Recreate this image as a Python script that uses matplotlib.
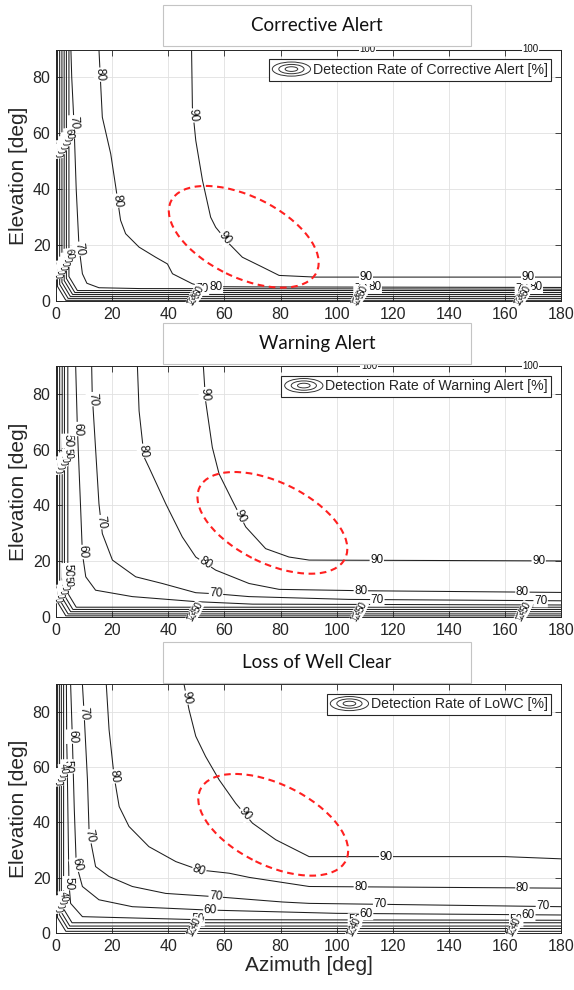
import numpy as np
import matplotlib
matplotlib.use("Agg")
import matplotlib.pyplot as plt
from matplotlib.patches import Ellipse, Rectangle
from matplotlib.legend_handler import HandlerBase
from matplotlib.lines import Line2D
from matplotlib.transforms import ScaledTranslation

plt.rcParams['font.family'] = ['Liberation Sans', 'DejaVu Sans']

AZ_TICKS = [0, 20, 40, 60, 80, 100, 120, 140, 160, 180]
EL_TICKS = [0, 20, 40, 60, 80]

# ---- Corrective Alert ----
CA_LOW_LEVELS = [10, 20, 30, 40, 50, 60]
CA_LOW_AZ = [0.5, 1.3, 2.1, 2.9, 3.7, 4.6]     # vertical branch
CA_LOW_EL = [0.4, 1.1, 1.8, 2.5, 3.2, 3.9]     # horizontal branch
CA_70_AZ = [5.3, 5.6, 6.4, 7.2, 8.2, 9.4, 11.0, 15.3, 30, 180]
CA_70_EL = [90, 80, 63.6, 40, 19.4, 9.9, 6.5, 4.9, 4.6, 4.4]
CA_80_AZ = [15.3, 15.9, 16.5, 19.5, 21.3, 23.0, 24.8, 29.6, 35.5, 39.7, 41.5, 48.6, 52.7, 70, 180]
CA_80_EL = [90, 77.7, 65.8, 52.7, 40.8, 29.0, 24.2, 19.4, 15.8, 13.4, 9.9, 6.3, 5.3, 5.2, 5.0]
CA_90_AZ = [48.3, 48.6, 49.8, 52.2, 55.1, 56.9, 61.7, 66.4, 73.5, 79.5, 92.5, 180]
CA_90_EL = [90, 69.4, 57.5, 43.2, 30.1, 26.5, 20.6, 15.8, 12.3, 9.3, 8.7, 8.7]
CA_100_AZ = [80, 180]
CA_100_EL = [90, 90]
CA_LABELS = [(70, 6.4, 64), (70, 8.2, 18.8), (70, 52, 4.6), (70, 108.5, 4.5), (70, 166, 4.4),
             (80, 15.4, 81), (80, 21.9, 36), (80, 57, 5.3), (80, 113.6, 5.1), (80, 171, 5.0),
             (90, 48.6, 66.4), (90, 59.9, 22.4), (90, 110.4, 8.7), (90, 168.2, 8.7),
             (100, 111, 90), (100, 169, 90)]
CA_CLUSTER_AZ = [48.5, 107, 165]
CA_CLUSTER_EL = [53, 10]
CA_ELLIPSE = (66.9, 23.1)

# ---- Warning Alert ----
WA_LOW_LEVELS = [10, 20, 30, 40, 50]
WA_LOW_AZ = [0.5, 1.3, 2.2, 3.0, 4.2]
WA_LOW_EL = [0.4, 1.1, 1.9, 2.7, 3.5]
WA_60_AZ = [7.0, 7.6, 8.8, 9.4, 10.6, 14.1, 27.2, 49.8, 70, 180]
WA_60_EL = [90, 68, 38.2, 22.7, 14.4, 9.6, 7.3, 5.5, 4.6, 4.3]
WA_70_AZ = [12.7, 12.9, 15.3, 16.5, 20.1, 28.4, 37.9, 49.8, 57, 68.8, 104.4, 180]
WA_70_EL = [90, 79.9, 40.6, 29.9, 20.4, 14.4, 12.0, 8.7, 8.3, 7.3, 6.3, 5.8]
WA_80_AZ = [29.0, 29.6, 31.4, 33.1, 39.1, 45.0, 49.8, 56.9, 68.8, 79.5, 110, 180]
WA_80_EL = [90, 73.9, 57.3, 53.7, 40.6, 28.7, 21.5, 16.8, 12.0, 9.9, 9.4, 8.8]
WA_90_AZ = [52.5, 53.3, 55.7, 58.1, 62.8, 67.6, 74.7, 83.0, 90.2, 180]
WA_90_EL = [90, 77.5, 60.8, 51.3, 41.8, 32.3, 24.5, 21.5, 20.4, 20.1]
WA_100_AZ = [80, 180]
WA_100_EL = [90, 90]
WA_LABELS = [(50, 4.2, 63.2), (50, 4.2, 16.8), (60, 7.7, 67.4), (60, 9.4, 23.3),
             (70, 12.9, 78.1), (70, 15.9, 34), (70, 57, 8.3), (70, 114.5, 6.1), (70, 172.7, 5.8),
             (80, 31.1, 59.6), (80, 52.7, 18.6), (80, 108.6, 9.4), (80, 166.2, 8.9),
             (90, 52.9, 79.9), (90, 65, 35.8), (90, 114.3, 20.2), (90, 172, 20.1),
             (100, 111.5, 90), (100, 169, 90)]
WA_CLUSTER_AZ = [48.5, 107, 165.5]
WA_CLUSTER_EL = [53, 7]
WA_ELLIPSE = (77.1, 33.75)

# ---- Loss of Well Clear ----
LW_LOW_LEVELS = [10, 20, 30, 40]
LW_LOW_AZ = [0.5, 1.2, 1.9, 2.7]
LW_LOW_EL = [0.6, 1.6, 2.5, 3.7]
LW_50_AZ = [3.7, 3.8, 4.0, 4.6, 5.2, 9.4, 51, 180]
LW_50_EL = [90, 70, 60, 18, 10.7, 5.9, 4.8, 4.6]
LW_60_AZ = [5.2, 5.8, 6.5, 7.2, 9.4, 15.3, 27.2, 53.9, 100, 180]
LW_60_EL = [90, 71, 45, 25, 16.8, 12.0, 9.5, 8.3, 7.1, 6.5]
LW_70_AZ = [9.4, 10.0, 11.2, 11.8, 14.1, 18.9, 27.2, 39.1, 56.9, 80.7, 90.2, 180]
LW_70_EL = [90, 79.5, 55.4, 36.1, 24.0, 20.4, 16.8, 14.3, 13.1, 11.2, 10.7, 9.5]
LW_80_AZ = [17.9, 18.9, 20.7, 22.5, 26.0, 33.1, 42.7, 51, 61.7, 68.8, 90.2, 180]
LW_80_EL = [90, 73.5, 56.6, 45.7, 38.5, 31.2, 25.8, 22.8, 21.6, 20.1, 16.8, 16.2]
LW_90_AZ = [45.6, 47.4, 49.8, 53.3, 58.1, 64.0, 70.0, 78.3, 90.2, 160, 180]
LW_90_EL = [90, 80.7, 71.1, 63.8, 55.4, 46.9, 39.7, 33.7, 27.6, 27.6, 26.8]
LW_LABELS = [(50, 4.0, 60.2), (50, 4.6, 18), (50, 50.5, 4.8), (50, 106.5, 4.7), (50, 164, 4.6),
             (60, 55, 8.3), (60, 5.8, 71), (60, 7.0, 24.5), (60, 110.5, 7.0), (60, 168.3, 6.6),
             (70, 9.7, 79.5), (70, 11.8, 34.9), (70, 56.9, 13.1), (70, 115.5, 10.3), (70, 173.5, 9.6),
             (80, 20.7, 56.6), (80, 51, 22.8), (80, 108.6, 16.6), (80, 166.2, 16.3),
             (90, 46.2, 85), (90, 67, 42.7), (90, 117.5, 27.6)]
LW_CLUSTER_AZ = [48.5, 105.5, 162.5]
LW_CLUSTER_EL = [55, 9]
LW_ELLIPSE = (77.4, 39.1)

LINE_COLOR = '#1e1e1e'
AX_COLOR = '#262626'


def low_path(av, eh):
    return [av, av, av + 3.0, 180], [90, eh + 5.0, eh, eh]


class ContourHandle(HandlerBase):
    def create_artists(self, legend, orig_handle, xdescent, ydescent,
                       width, height, fontsize, trans):
        cx = width / 2 - xdescent
        cy = height / 2 - ydescent
        out = []
        for f in (1.0, 0.66, 0.33):
            out.append(Ellipse((cx, cy), width * f, height * 1.2 * f, fill=False,
                               ec='#333333', lw=0.7, transform=trans))
        return out


def put_label(ax, paths, level, x, y, size=8, clip=True):
    az, el = paths[level]
    pts = ax.transData.transform(np.column_stack([az, el]))
    p = ax.transData.transform((x, y))
    best = None
    for i in range(len(pts) - 1):
        a, b = pts[i], pts[i + 1]
        d = b - a
        L2 = d @ d
        t = 0.0 if L2 == 0 else np.clip((p - a) @ d / L2, 0, 1)
        q = a + t * d
        dist = np.hypot(*(p - q))
        if best is None or dist < best[0]:
            best = (dist, q, d)
    _, q, d = best
    ang = np.degrees(np.arctan2(d[1], d[0]))
    if ang > 90:
        ang -= 180
    if ang <= -90:
        ang += 180
    if abs(abs(ang) - 90) < 0.5:
        ang = -88
    xq, yq = ax.transData.inverted().transform(q)
    ax.text(xq, yq, str(level), rotation=ang, rotation_mode='anchor',
            ha='center', va='center', fontsize=size, color='#111111',
            bbox=dict(fc='white', ec='none', pad=0.4), zorder=4, clip_on=clip)


def draw_panel(ax, title, box_y, low_levels, low_az, low_el, upper, labels,
               cluster_az, cluster_el, ell_center, legend_text, xlabel=False):
    ax.set_xlim(0, 180)
    ax.set_ylim(0, 90)
    ax.set_xticks(AZ_TICKS)
    ax.set_yticks(EL_TICKS)
    ax.grid(True, color='#e1e1e1', lw=0.6)
    ax.set_axisbelow(True)
    ax.tick_params(direction='in', top=True, right=True, length=4, width=0.6,
                   colors=AX_COLOR, labelsize=11.5, pad=4)
    for s in ax.spines.values():
        s.set_color(AX_COLOR)
        s.set_linewidth(0.7)
    ax.set_ylabel('Elevation [deg]', fontsize=15, color=AX_COLOR, labelpad=3)
    if xlabel:
        ax.set_xlabel('Azimuth [deg]', fontsize=15, color=AX_COLOR, labelpad=2)

    paths = {}
    for lev, av, eh in zip(low_levels, low_az, low_el):
        paths[lev] = low_path(av, eh)
    for lev, az, el in upper:
        paths[lev] = (az, el)
    for lev, (az, el) in paths.items():
        ax.plot(az, el, color=LINE_COLOR, lw=0.75, zorder=2,
                clip_on=(lev != 100))
    for lev, x, y in labels:
        put_label(ax, paths, lev, x, y, size=7 if lev == 100 else 8.5,
                  clip=(lev != 100))

    # crowded labels of the tightly packed low levels
    for k, (lev, av, eh) in enumerate(zip(low_levels, low_az, low_el)):
        for ca in cluster_az:
            ax.text(ca + 0.5 * k, eh, str(lev), rotation=65, rotation_mode='anchor',
                    ha='center', va='center', fontsize=7, color='#111111',
                    bbox=dict(fc='white', ec='none', pad=0.2), zorder=4)
        for ce in cluster_el:
            ax.text(av, ce + 1.4 * k, str(lev), rotation=-82, rotation_mode='anchor',
                    ha='center', va='center', fontsize=7, color='#111111',
                    bbox=dict(fc='white', ec='none', pad=0.2), zorder=4)

    ell = Ellipse((0, 0), 1.62, 0.81, angle=-26, fill=False, ec='#ff2020',
                  lw=1.5, ls=(0, (3.2, 2.2)), zorder=5,
                  transform=fig.dpi_scale_trans + ScaledTranslation(
                      ell_center[0], ell_center[1], ax.transData))
    ax.add_patch(ell)

    proxy = Line2D([], [])
    leg = ax.legend([proxy], [legend_text], handler_map={proxy: ContourHandle()},
                    loc='upper right', fontsize=10.2, handlelength=2.7,
                    handleheight=0.9, handletextpad=0.15, borderpad=0.25,
                    borderaxespad=0.7, fancybox=False, framealpha=1)
    leg.get_frame().set_edgecolor(AX_COLOR)
    leg.get_frame().set_linewidth(0.8)
    leg.set_zorder(6)
    for t in leg.get_texts():
        t.set_color(AX_COLOR)

    fig.add_artist(Rectangle((0.284, box_y), 0.537, 0.0414, transform=fig.transFigure,
                             fc='white', ec='#c4c4c4', lw=0.8, zorder=7))
    fig.text(0.5525, box_y + 0.0207, title, ha='center', va='center',
             fontsize=13.5, family=['Lato', 'DejaVu Sans'], color='#111111', zorder=8)


fig = plt.figure(figsize=(5.74, 9.90), dpi=100)
ax1 = fig.add_axes([0.0976, 0.6955, 0.8800, 0.2545])
ax2 = fig.add_axes([0.0976, 0.3768, 0.8800, 0.2535])
ax3 = fig.add_axes([0.0976, 0.0576, 0.8800, 0.2515])

draw_panel(ax1, 'Corrective Alert', 0.9535, CA_LOW_LEVELS, CA_LOW_AZ, CA_LOW_EL,
           [(70, CA_70_AZ, CA_70_EL), (80, CA_80_AZ, CA_80_EL), (90, CA_90_AZ, CA_90_EL),
            (100, CA_100_AZ, CA_100_EL)],
           CA_LABELS, CA_CLUSTER_AZ, CA_CLUSTER_EL, CA_ELLIPSE,
           'Detection Rate of Corrective Alert [%]')
draw_panel(ax2, 'Warning Alert', 0.6323, WA_LOW_LEVELS, WA_LOW_AZ, WA_LOW_EL,
           [(60, WA_60_AZ, WA_60_EL), (70, WA_70_AZ, WA_70_EL), (80, WA_80_AZ, WA_80_EL),
            (90, WA_90_AZ, WA_90_EL), (100, WA_100_AZ, WA_100_EL)],
           WA_LABELS, WA_CLUSTER_AZ, WA_CLUSTER_EL, WA_ELLIPSE,
           'Detection Rate of Warning Alert [%]')
draw_panel(ax3, 'Loss of Well Clear', 0.3101, LW_LOW_LEVELS, LW_LOW_AZ, LW_LOW_EL,
           [(50, LW_50_AZ, LW_50_EL), (60, LW_60_AZ, LW_60_EL), (70, LW_70_AZ, LW_70_EL),
            (80, LW_80_AZ, LW_80_EL), (90, LW_90_AZ, LW_90_EL)],
           LW_LABELS, LW_CLUSTER_AZ, LW_CLUSTER_EL, LW_ELLIPSE,
           'Detection Rate of LoWC [%]', xlabel=True)

fig.savefig('out.png', dpi=100)
